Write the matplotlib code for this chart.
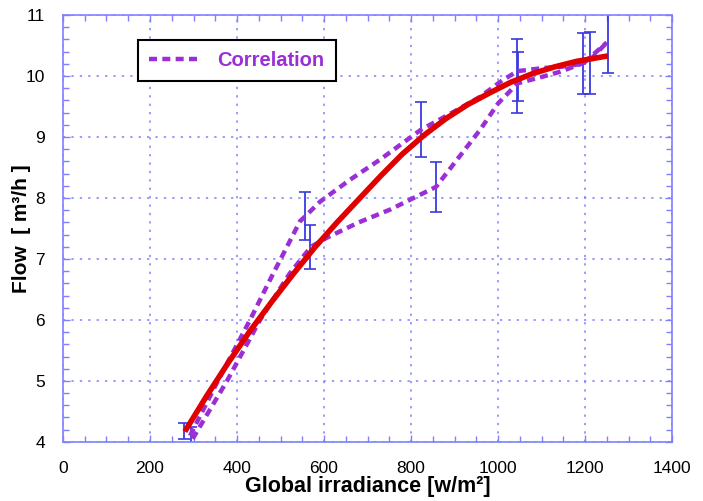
import matplotlib
matplotlib.use("Agg")
import matplotlib.pyplot as plt
from matplotlib.ticker import MultipleLocator

plt.rcParams['font.family'] = ['Liberation Sans', 'DejaVu Sans']

# fitted flow curve
fit_x = [280, 330, 380, 430, 480, 530, 580, 630, 680, 730, 780, 830, 880, 930, 980, 1030, 1080, 1130, 1180, 1253]
fit_y = [4.17, 4.75, 5.3, 5.82, 6.3, 6.76, 7.2, 7.6, 7.98, 8.36, 8.72, 9.03, 9.3, 9.53, 9.72, 9.9, 10.04, 10.15, 10.24, 10.33]

# correlation curves (two measurement runs)
corr1_x = [292, 356, 430, 476, 545, 557, 591, 660, 729, 823, 900, 959, 1010, 1045, 1103, 1143, 1195, 1250]
corr1_y = [4.1, 5.0, 6.0, 6.66, 7.62, 7.7, 7.94, 8.3, 8.63, 9.12, 9.42, 9.66, 9.93, 10.08, 10.13, 10.15, 10.2, 10.55]
corr2_x = [298, 377, 453, 520, 570, 607, 680, 752, 857, 906, 959, 1000, 1045, 1103, 1143, 1210, 1250]
corr2_y = [4.05, 5.0, 6.0, 6.75, 7.2, 7.35, 7.6, 7.81, 8.18, 8.63, 9.12, 9.55, 9.88, 9.99, 10.07, 10.25, 10.55]

# measured points with error bars
meas_x = [278, 294, 556, 568, 823, 857, 1043, 1047, 1195, 1211, 1253]
meas_y = [4.18, 4.1, 7.7, 7.2, 9.12, 8.18, 10.0, 9.99, 10.2, 10.21, 10.55]
meas_err = [0.13, 0.15, 0.39, 0.36, 0.45, 0.41, 0.6, 0.4, 0.5, 0.51, 0.5]

purple = '#9a2fd6'
blue = '#8080ff'

fig = plt.figure(figsize=(7.03, 5.01), dpi=100)
ax = fig.add_axes([0.0896, 0.118, 0.8664, 0.852])

ax.errorbar(meas_x, meas_y, yerr=meas_err, fmt='none', ecolor='#3a3ae0',
            elinewidth=1.3, capsize=4, capthick=1.2, zorder=2)
ax.plot(corr1_x, corr1_y, color=purple, lw=3.2, dashes=(1.8, 1.2), label='Correlation', zorder=3)
ax.plot(corr2_x, corr2_y, color=purple, lw=3.2, dashes=(1.8, 1.2), zorder=3)
ax.plot(fit_x, fit_y, color='#e00000', lw=4, solid_capstyle='butt', zorder=4)

ax.set_xlim(0, 1400)
ax.set_ylim(4, 11)
ax.xaxis.set_major_locator(MultipleLocator(200))
ax.xaxis.set_minor_locator(MultipleLocator(50))
ax.yaxis.set_major_locator(MultipleLocator(1))
ax.yaxis.set_minor_locator(MultipleLocator(0.2))

ax.grid(True, which='major', color=blue, ls=(0, (1.5, 4)), lw=1.1)
for s in ax.spines.values():
    s.set_color(blue)
    s.set_linewidth(1.2)
ax.tick_params(which='both', direction='in', top=True, right=True, color=blue,
               labelsize=12.5, width=1)
ax.tick_params(axis='y', which='major', length=5, pad=13)
ax.tick_params(axis='x', which='major', length=5, pad=14)
ax.tick_params(which='minor', length=4)

ax.set_xlabel('Global irradiance [w/m²]', fontsize=15.5, fontweight='bold', labelpad=0)
ax.set_ylabel('Flow  [ m³/h ]', fontsize=15, fontweight='bold', labelpad=-4)

leg = ax.legend(loc='upper left', bbox_to_anchor=(0.123, 0.942), fancybox=False,
                edgecolor='black', framealpha=1, handlelength=2.6,
                borderpad=0.55, borderaxespad=0, labelcolor=purple,
                prop={'weight': 'bold', 'size': 14.5})
leg.get_frame().set_linewidth(1.5)

fig.savefig('out.png', dpi=100)
